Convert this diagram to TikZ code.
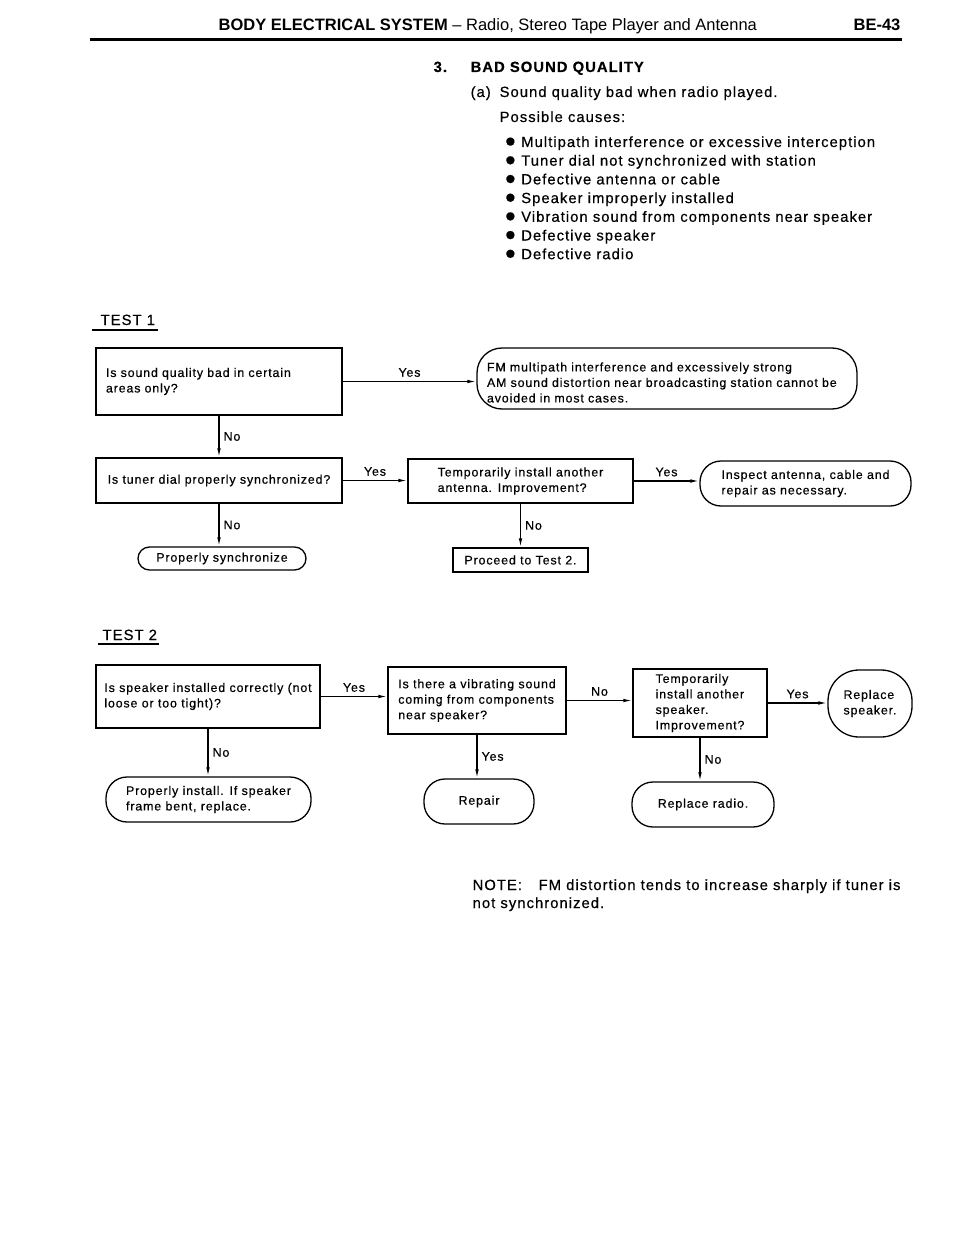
\documentclass[tikz,border=0pt]{standalone}
\usepackage{fontspec}
\setmainfont{Liberation Sans}
\newfontfamily\lsfamily{Liberation Sans}[LetterSpace=7.0,FakeBold=0.5]
\usetikzlibrary{arrows.meta}
\newcommand\flowfont{\lsfamily\fontsize{12.4}{15.5}\selectfont}
\newcommand\pagefont{\lsfamily\fontsize{14.8}{18}\selectfont}
\newcommand\dotmark{{\fontsize{19}{18}\selectfont ●}}

\begin{document}
\begin{tikzpicture}[x=1pt,y=-1pt,line width=1.3pt,
  qbox/.style={draw, rectangle, font=\flowfont, align=left, inner sep=2pt},
  term/.style={draw, rectangle, rounded corners=#1, font=\flowfont, align=left, inner sep=2pt},
  term/.default=20pt,
  lab/.style={font=\flowfont, inner sep=4pt},
  txt/.style={font=\pagefont, anchor=base west, inner sep=0pt},
  >={Latex[length=9pt,width=3.6pt]}]
\useasboundingbox (0,0) rectangle (960,1241);
% page head
\node[anchor=base west, inner sep=0pt, font=\fontsize{16.5}{20}\selectfont] (head) at (218,31) {\textbf{BODY ELECTRICAL SYSTEM} – Radio, Stereo Tape Player and Antenna};
\node[anchor=base east, inner sep=0pt, font=\bfseries\fontsize{16.5}{20}\selectfont] (page) at (901,31) {BE-43};
\draw[line width=3pt] (90,40) -- (902,40);
% causes
\node[txt, font=\pagefont\bfseries] (num) at (433,72) {3.};
\node[txt, font=\pagefont\bfseries] (title) at (470,72) {BAD SOUND QUALITY};
\node[txt] (sub) at (470,97) {(a)};
\node[txt] (subtext) at (499,97) {Sound quality bad when radio played.};
\node[txt] (causes) at (499,122) {Possible causes:};
\foreach \cause [count=\i from 0] in {Multipath interference or excessive interception,
  Tuner dial not synchronized with station, Defective antenna or cable,
  Speaker improperly installed, Vibration sound from components near speaker,
  Defective speaker, Defective radio}
  \node[txt] (cause\i) at (504,147+18.7*\i) {\dotmark\ \cause};
% test 1
\node[txt] (test1) at (100,325) {TEST 1};
\draw[line width=1.2pt] ([xshift=-8pt,yshift=-5pt]test1.base west) -- ([xshift=2pt,yshift=-5pt]test1.base east);
\node[qbox, text width=226pt, inner xsep=10pt, minimum height=67pt] (areas) at (219,381.5) {Is sound quality bad in certain\\areas only?};
\node[term=25pt, text width=360pt, inner xsep=10pt, minimum height=61pt] (multipath) at (667,378.5) {\rule{0pt}{17pt}FM multipath interference and excessively strong\\AM sound distortion near broadcasting station cannot be\\avoided in most cases.};
\node[qbox, minimum width=246pt, minimum height=45pt] (dial) at (219,480.5) {Is tuner dial properly synchronized?};
\node[term=11.5pt, minimum width=168pt, minimum height=23pt] (sync) at (222,558.5) {Properly synchronize};
\node[qbox, minimum width=225pt, minimum height=44pt] (antenna) at (520.5,481) {Temporarily install another\\antenna. Improvement?};
\node[qbox, minimum width=135pt, minimum height=24pt] (gotest2) at (520.5,560) {Proceed to Test 2.};
\node[term=21pt, minimum width=211pt, minimum height=45pt] (inspect) at (805.5,483.5) {Inspect antenna, cable and\\repair as necessary.};
\draw[->] (areas.east) -- (areas.east -| multipath.west) node[lab, midway, above] {Yes};
\draw[->] (areas.south) -- (areas.south |- dial.north) node[lab, midway, right] {No};
\draw[->] (dial.east) -- (dial.east -| antenna.west) node[lab, midway, above] {Yes};
\draw[->] (dial.south) -- (dial.south |- sync.north) node[lab, midway, right] {No};
\draw[->] (antenna.east) -- (antenna.east -| inspect.west) node[lab, midway, above] {Yes};
\draw[->] (antenna.south) -- (antenna.south |- gotest2.north) node[lab, midway, right] {No};
% test 2
\node[txt] (test2) at (102,640) {TEST 2};
\draw[line width=1.2pt] ([xshift=-4pt,yshift=-4pt]test2.base west) -- ([xshift=1pt,yshift=-4pt]test2.base east);
\node[qbox, minimum width=224pt, minimum height=63pt] (fitted) at (208,696.5) {Is speaker installed correctly (not\\loose or too tight)?};
\node[qbox, minimum width=178pt, minimum height=67pt] (vibrate) at (477,700.5) {Is there a vibrating sound\\coming from components\\near speaker?};
\node[qbox, minimum width=134pt, minimum height=68pt] (speaker) at (700,703) {Temporarily\\install another\\speaker.\\Improvement?};
\node[term=31pt, minimum width=84pt, minimum height=67pt] (newspeaker) at (870,703.5) {Replace\\speaker.};
\node[term=21pt, minimum width=205pt, minimum height=45pt] (install) at (208.5,799.5) {Properly install. If speaker\\frame bent, replace.};
\node[term=21pt, minimum width=110pt, minimum height=45pt] (repair) at (479,801.5) {Repair};
\node[term=21pt, minimum width=142pt, minimum height=45pt] (newradio) at (703,804.5) {Replace radio.};
\draw[->] (fitted.east) -- (fitted.east -| vibrate.west) node[lab, midway, above] {Yes};
\draw[->] (fitted.south) -- (fitted.south |- install.north) node[lab, midway, right] {No};
\draw[->] (vibrate.south) -- (vibrate.south |- repair.north) node[lab, midway, right] {Yes};
\draw[->] (vibrate.east) -- (vibrate.east -| speaker.west) node[lab, midway, above] {No};
\draw[->] (speaker.east) -- (speaker.east -| newspeaker.west) node[lab, midway, above] {Yes};
\draw[->] (speaker.south) -- (speaker.south |- newradio.north) node[lab, midway, right] {No};
% note
\node[txt] (note) at (472,890) {NOTE:};
\node[txt] (notetext) at (538,890) {FM distortion tends to increase sharply if tuner is};
\node[txt] (notetext2) at (472,908) {not synchronized.};
\end{tikzpicture}
\end{document}
